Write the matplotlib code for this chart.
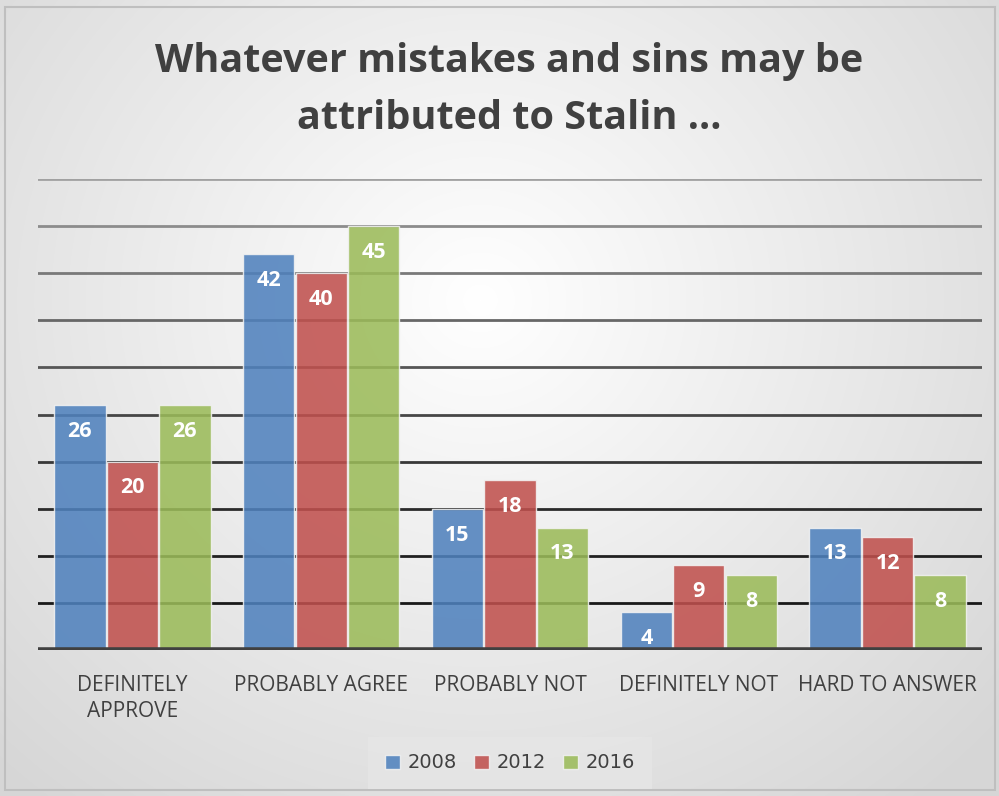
import matplotlib.pyplot as plt
import numpy as np
from matplotlib.patches import Rectangle

categories = ['DEFINITELY\nAPPROVE', 'PROBABLY AGREE', 'PROBABLY NOT', 'DEFINITELY NOT', 'HARD TO ANSWER']
years = ['2008', '2012', '2016']
v2008 = [26, 42, 15, 4, 13]
v2012 = [20, 40, 18, 9, 12]
v2016 = [26, 45, 13, 8, 8]
colors = ['#4f81bd', '#c0504d', '#9bbb59']

W, H = 999, 796
fig = plt.figure(figsize=(W / 100, H / 100), dpi=100)

# radial gradient background
bg = fig.add_axes([0, 0, 1, 1], zorder=-10)
yy, xx = np.mgrid[0:H, 0:W]
r = np.sqrt(((xx - 480) / 700.0) ** 2 + ((yy - 300) / 650.0) ** 2)
r = np.clip(r, 0, 1)
shade = 1.0 - 0.16 * r
bg.imshow(np.dstack([shade] * 3), extent=[0, W, H, 0], aspect='auto')
bg.add_patch(Rectangle((5, 7), 990, 783, fill=False, ec='#bfbfbf', lw=1.5))
bg.set_xlim(0, W)
bg.set_ylim(H, 0)
bg.axis('off')

ax = fig.add_axes([38 / W, 1 - 650 / H, (982 - 38) / W, (650 - 179) / H])
ax.patch.set_alpha(0)
ax.set_xlim(-0.5, 4.5)
ax.set_ylim(0, 50)

# gridlines: darker toward the bottom
for g in range(5, 51, 5):
    c = 0.08 + 0.55 * (g / 50.0) ** 1.5
    ax.axhline(g, color=(c, c, c), lw=2, zorder=1)
ax.axhline(0, color='#404040', lw=4, zorder=4)

x = np.arange(len(categories))
bw = 0.272
for i, (vals, col, yr) in enumerate(zip([v2008, v2012, v2016], colors, years)):
    pos = x + (i - 1) * (bw + 0.006)
    ax.bar(pos, vals, bw, color=col, alpha=0.87, edgecolor='#f2f2f2', lw=1,
           zorder=2, label=yr)
    for p, v in zip(pos, vals):
        ax.text(p, v - 2.8, str(v), ha='center', va='center', color='white',
                fontsize=15.5, fontweight='bold', family='Open Sans', zorder=5)

ax.set_xticks(x)
ax.set_xticklabels(categories, fontsize=15, color='#404040', family='Open Sans',
                   linespacing=1.3)
ax.tick_params(axis='x', length=0, pad=18)
ax.set_yticks([])
for s in ax.spines.values():
    s.set_visible(False)

fig.text(0.51, 1 - 90 / H, 'Whatever mistakes and sins may be\nattributed to Stalin ...',
         ha='center', va='center', fontsize=28.5, fontweight='bold', color='#404040',
         family='Open Sans', linespacing=1.6)

leg = fig.legend(loc='center', bbox_to_anchor=(510 / W, 1 - 763 / H), ncol=3,
                 frameon=True, fontsize=14, handlelength=0.75, handleheight=0.75,
                 handletextpad=0.4, columnspacing=0.9, borderpad=0.55)
leg.get_frame().set_facecolor('#e6e6e6')
leg.get_frame().set_edgecolor('none')
leg.get_frame().set_boxstyle('square')
for t in leg.get_texts():
    t.set_color('#404040')

fig.savefig('out.png', dpi=100)
